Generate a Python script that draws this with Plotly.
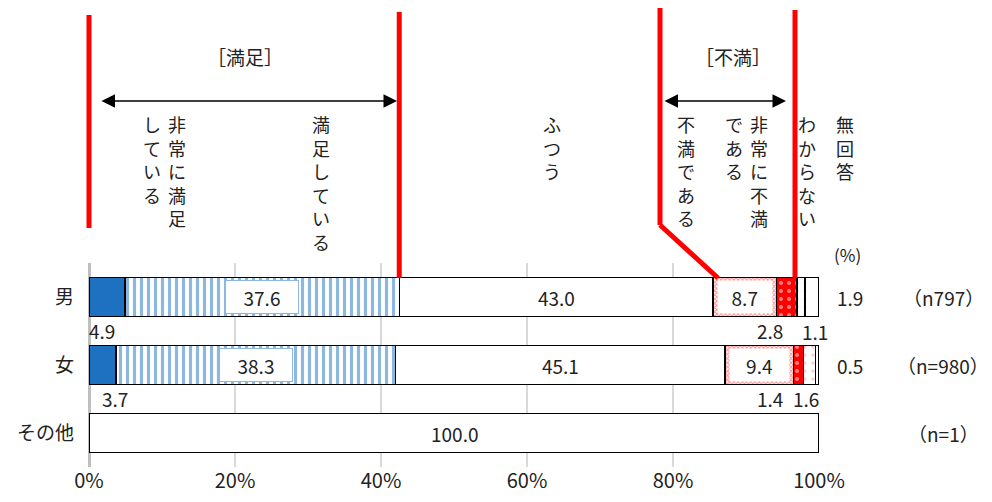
import plotly.graph_objects as go

# ── data ───────────────────────────────────────────
groups            = ["男", "女", "その他"]
very_satisfied    = [4.9, 3.7, 0]
satisfied         = [37.6, 38.3, 0]
neutral           = [43.0, 45.1, 100.0]
dissatisfied      = [8.7, 9.4, 0]
very_dissatisfied = [2.8, 1.4, 0]
dont_know         = [1.1, 1.6, 0]
no_answer         = [1.9, 0.5, 0]
n_labels          = ["（n797）", "（n=980）", "（n=1）"]
x_ticks           = [0, 20, 40, 60, 80, 100]

FONT  = "Noto Sans CJK JP"
BLUE  = "#1E70C1"
RED   = "#FF0000"
TXT   = "#222222"

W, H = 992, 502
M_L, M_R, M_T, M_B = 89, 173, 263, 35
PLOT_W = W - M_L - M_R
PLOT_H = H - M_T - M_B


def py(pix):
    """pixel row -> paper y"""
    return (H - M_B - pix) / PLOT_H


def pxp(pix):
    """pixel column -> paper x"""
    return (pix - M_L) / PLOT_W


series = [
    ("非常に満足している", very_satisfied,
     dict(color=BLUE)),
    ("満足している", satisfied,
     dict(color="white", pattern=dict(shape="|", fgcolor=BLUE, size=7,
                                      solidity=0.45, fillmode="overlay"))),
    ("ふつう", neutral, dict(color="white")),
    ("不満である", dissatisfied,
     dict(color="white", pattern=dict(shape="x", fgcolor=RED, size=3,
                                      solidity=0.5, fillmode="overlay"))),
    ("非常に不満である", very_dissatisfied,
     dict(color=RED, pattern=dict(shape=".", fgcolor="white", size=8,
                                  solidity=0.2, fillmode="overlay"))),
    ("わからない", dont_know,
     dict(color="white", pattern=dict(shape=".", fgcolor="#F3A0A0", size=8,
                                      solidity=0.15, fillmode="overlay"))),
    ("無回答", no_answer, dict(color="white")),
]

fig = go.Figure()
for name, vals, marker in series:
    fig.add_trace(go.Bar(
        y=groups, x=vals, name=name, orientation="h",
        marker=dict(line=dict(color="black", width=1.5), **marker),
        hoverinfo="x+name",
    ))

ann = []


def label(pct, y, text, yshift=0, **kw):
    # pct is a position on the 0-100 axis, placed via paper coords so that
    # labels right of 100% are not dropped
    ann.append(dict(x=pct / 100, y=y, xref="paper", yref="y", text=text,
                    showarrow=False, yshift=yshift,
                    xanchor="center", yanchor="middle",
                    font=dict(size=19, color=TXT, family=FONT), **kw))


# values in / around the bars (男, 女)
for i in range(2):
    g = groups[i]
    c1 = very_satisfied[i]
    c2 = c1 + satisfied[i]
    c3 = c2 + neutral[i]
    label(c1 + satisfied[i] / 2, g, f"{satisfied[i]:.1f}",
          bgcolor="white", bordercolor="#8DB6E0", borderwidth=1,
          width=70, height=30)
    label(c2 + neutral[i] / 2, g, f"{neutral[i]:.1f}")
    label(c3 + dissatisfied[i] / 2, g, f"{dissatisfied[i]:.1f}",
          bgcolor="white", width=dissatisfied[i] * 7.3 - 12, height=30)
    label(104.3, g, f"{no_answer[i]:.1f}")

label(1.8, "男", f"{very_satisfied[0]:.1f}", yshift=-33)
label(3.6, "女", f"{very_satisfied[1]:.1f}", yshift=-33)
label(93.3, "男", f"{very_dissatisfied[0]:.1f}", yshift=-33)
label(93.3, "女", f"{very_dissatisfied[1]:.1f}", yshift=-33)
label(99.5, "男", f"{dont_know[0]:.1f}", yshift=-34)
label(98.2, "女", f"{dont_know[1]:.1f}", yshift=-33)
label(50, "その他", f"{neutral[2]:.1f}")

for g, n in zip(groups, n_labels):
    label(117, g, n)


# vertical column headers, one character per annotation
def vtext(x_pix, text, first=124, step=23.6):
    for k, ch in enumerate(text):
        ann.append(dict(x=pxp(x_pix), y=py(first + k * step),
                        xref="paper", yref="paper", text=ch,
                        showarrow=False, xanchor="center", yanchor="middle",
                        font=dict(size=18, color=TXT, family=FONT)))


vtext(177, "非常に満足")
vtext(152, "している")
vtext(321, "満足している")
vtext(552, "ふつう")
vtext(686, "不満である")
vtext(759, "非常に不満")
vtext(734, "である")
vtext(807, "わからない")
vtext(845, "無回答")

for x_pix, text in [(245, "［満足］"), (733, "［不満］")]:
    ann.append(dict(x=pxp(x_pix), y=py(56), xref="paper", yref="paper",
                    text=text, showarrow=False,
                    xanchor="center", yanchor="middle",
                    font=dict(size=19, color=TXT, family=FONT)))
ann.append(dict(x=pxp(847), y=py(254), xref="paper", yref="paper",
                text="(%)", showarrow=False,
                xanchor="center", yanchor="middle",
                font=dict(size=17, color=TXT, family=FONT)))

# double-headed arrows
for x0, x1 in [(100, 397), (663, 786)]:
    ann.append(dict(x=pxp(x1), y=py(101), ax=x0 - x1, ay=0,
                    xref="paper", yref="paper", axref="pixel", ayref="pixel",
                    text="", showarrow=True, arrowhead=2, startarrowhead=2,
                    arrowside="end+start", arrowsize=1.8, startarrowsize=1.8,
                    arrowwidth=1.5, arrowcolor="black"))

# red bracket lines
red = dict(color=RED, width=5)
split_hi = (very_satisfied[0] + satisfied[0]) / 100
shapes = [
    dict(type="line", xref="paper", yref="paper", x0=0, x1=0,
         y0=py(15), y1=py(228), line=red),
    dict(type="line", xref="paper", yref="paper", x0=split_hi, x1=split_hi,
         y0=py(12), y1=py(278), line=red),
    dict(type="line", xref="paper", yref="paper", x0=pxp(660), x1=pxp(660),
         y0=py(8), y1=py(225), line=red),
    dict(type="line", xref="paper", yref="paper", x0=pxp(660), x1=pxp(718),
         y0=py(225), y1=py(278), line=red),
    dict(type="line", xref="paper", yref="paper", x0=pxp(795), x1=pxp(795),
         y0=py(10), y1=py(278), line=red),
]

fig.update_layout(
    width=W, height=H, autosize=False,
    margin=dict(l=M_L, r=M_R, t=M_T, b=M_B),
    barmode="stack", bargap=0.43, showlegend=False,
    plot_bgcolor="white", paper_bgcolor="white",
    font=dict(family=FONT, size=19, color=TXT),
    annotations=ann, shapes=shapes,
    xaxis=dict(range=[0, 100], tickvals=x_ticks,
               ticktext=[f"{v}%" for v in x_ticks],
               showgrid=True, gridcolor="#D9D9D9", gridwidth=1.5,
               zeroline=True, zerolinecolor="#BFBFBF", zerolinewidth=2.5,
               tickfont=dict(size=20, color=TXT), fixedrange=True,
               automargin=False),
    yaxis=dict(range=[2.5, -0.5], showgrid=False, ticks="",
               tickfont=dict(size=19, color=TXT), ticklabelstandoff=14,
               fixedrange=True, automargin=False),
)

fig.write_html("out.html", config={"displayModeBar": False},
               post_script="document.body.style.margin='0';")
